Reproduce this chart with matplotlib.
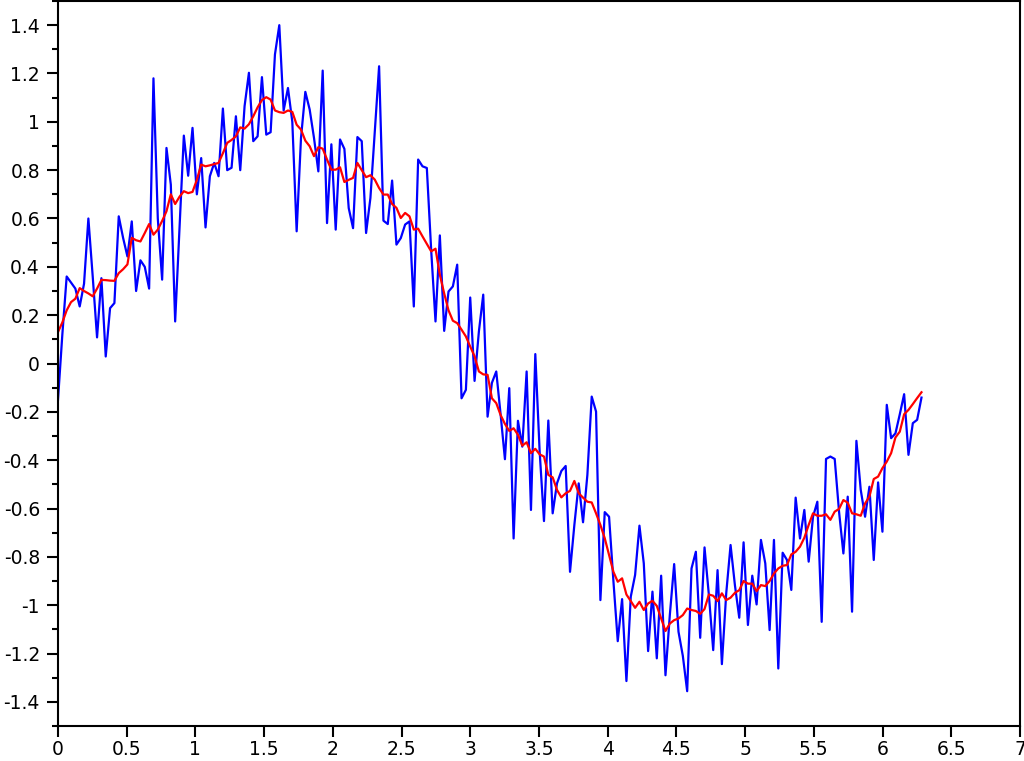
import numpy as np
import matplotlib
matplotlib.use("Agg")
import matplotlib.pyplot as plt
from matplotlib.ticker import MultipleLocator, FuncFormatter

plt.rcParams["font.family"] = ["DejaVu Sans"]
plt.rcParams["axes.unicode_minus"] = False

# Noisy signal (blue), 200 samples over [0, 2*pi]
noisy = [
    -0.15, 0.12, 0.36, 0.335, 0.31, 0.236, 0.33, 0.60, 0.36, 0.108,
    0.353, 0.029, 0.229, 0.25, 0.609, 0.52, 0.443, 0.588, 0.30, 0.427,
    0.40, 0.31, 1.18, 0.60, 0.347, 0.892, 0.74, 0.174, 0.56, 0.943,
    0.777, 0.975, 0.70, 0.85, 0.563, 0.775, 0.83, 0.775, 1.055, 0.80,
    0.81, 1.023, 0.80, 1.065, 1.203, 0.92, 0.94, 1.185, 0.947, 0.957,
    1.279, 1.40, 1.047, 1.14, 1.0, 0.547, 0.933, 1.124, 1.051, 0.933,
    0.795, 1.212, 0.581, 0.907, 0.554, 0.927, 0.888, 0.643, 0.56, 0.937,
    0.92, 0.54, 0.685, 0.961, 1.23, 0.591, 0.577, 0.757, 0.492, 0.519,
    0.575, 0.588, 0.236, 0.844, 0.816, 0.809, 0.47, 0.174, 0.53, 0.135,
    0.298, 0.319, 0.409, -0.144, -0.109, 0.273, -0.072, 0.133, 0.285, -0.22,
    -0.08, -0.033, -0.21, -0.396, -0.102, -0.724, -0.237, -0.344, -0.033, -0.606,
    0.039, -0.364, -0.652, -0.236, -0.62, -0.496, -0.445, -0.424, -0.862, -0.668,
    -0.496, -0.657, -0.461, -0.137, -0.199, -0.979, -0.615, -0.634, -0.9, -1.149,
    -0.975, -1.314, -0.965, -0.875, -0.671, -0.827, -1.19, -0.944, -1.22, -0.878,
    -1.29, -1.041, -0.83, -1.11, -1.21, -1.356, -0.848, -0.779, -1.135, -0.761,
    -0.958, -1.186, -0.855, -1.244, -0.951, -0.751, -0.917, -1.052, -0.74, -1.082,
    -0.878, -0.997, -0.73, -0.827, -1.103, -0.73, -1.262, -0.783, -0.813, -0.937,
    -0.555, -0.724, -0.606, -0.82, -0.634, -0.572, -1.069, -0.395, -0.385, -0.395,
    -0.613, -0.786, -0.551, -1.027, -0.32, -0.523, -0.634, -0.51, -0.813, -0.492,
    -0.696, -0.171, -0.309, -0.289, -0.21, -0.127, -0.378, -0.247, -0.233, -0.141,
]

# Smoothed signal (red)
smooth = [
    0.13, 0.17, 0.22, 0.254, 0.268, 0.312, 0.30, 0.29, 0.278, 0.31,
    0.346, 0.345, 0.343, 0.342, 0.374, 0.39, 0.41, 0.52, 0.51, 0.505,
    0.54, 0.577, 0.533, 0.554, 0.59, 0.63, 0.70, 0.66, 0.69, 0.713,
    0.705, 0.71, 0.76, 0.823, 0.816, 0.82, 0.825, 0.83, 0.87, 0.913,
    0.925, 0.94, 0.977, 0.972, 0.99, 1.023, 1.06, 1.09, 1.102, 1.092,
    1.047, 1.04, 1.037, 1.047, 1.041, 0.988, 0.968, 0.922, 0.899, 0.858,
    0.895, 0.889, 0.844, 0.802, 0.802, 0.812, 0.751, 0.76, 0.768, 0.83,
    0.80, 0.771, 0.779, 0.761, 0.726, 0.699, 0.699, 0.660, 0.644, 0.602,
    0.623, 0.609, 0.554, 0.558, 0.526, 0.495, 0.464, 0.475, 0.367, 0.29,
    0.22, 0.177, 0.167, 0.14, 0.112, 0.07, 0.03, -0.033, -0.045, -0.047,
    -0.144, -0.164, -0.213, -0.25, -0.279, -0.268, -0.295, -0.34, -0.326, -0.371,
    -0.353, -0.376, -0.385, -0.461, -0.471, -0.523, -0.554, -0.537, -0.527, -0.486,
    -0.537, -0.555, -0.572, -0.575, -0.62, -0.668, -0.723, -0.792, -0.862, -0.903,
    -0.889, -0.956, -0.983, -1.011, -0.986, -1.02, -0.993, -0.982, -1.003, -1.055,
    -1.107, -1.076, -1.062, -1.055, -1.041, -1.014, -1.02, -1.024, -1.036, -1.016,
    -0.956, -0.961, -0.983, -0.951, -0.979, -0.969, -0.949, -0.938, -0.9, -0.911,
    -0.911, -0.942, -0.917, -0.921, -0.9, -0.869, -0.848, -0.837, -0.834, -0.79,
    -0.779, -0.758, -0.721, -0.668, -0.62, -0.63, -0.63, -0.624, -0.647, -0.613,
    -0.602, -0.565, -0.576, -0.62, -0.624, -0.63, -0.579, -0.551, -0.478, -0.468,
    -0.433, -0.406, -0.371, -0.306, -0.282, -0.21, -0.192, -0.168, -0.143, -0.119,
]

x = np.linspace(0, 2 * np.pi, len(noisy))

fig = plt.figure(figsize=(10.24, 7.61), dpi=100)
ax = fig.add_axes([58 / 1024, 1 - 726 / 761, 962 / 1024, 725 / 761])

ax.plot(x, noisy, color="#0000ff", lw=1.6)
ax.plot(x, smooth, color="#ff0000", lw=1.6)

ax.set_xlim(0, 7)
ax.set_ylim(-1.5, 1.5)

ax.xaxis.set_major_locator(MultipleLocator(0.5))
ax.yaxis.set_major_locator(MultipleLocator(0.2))
ax.yaxis.set_minor_locator(MultipleLocator(0.1))
fmt = FuncFormatter(lambda v, p: f"{round(v, 2):g}")
ax.xaxis.set_major_formatter(fmt)
ax.yaxis.set_major_formatter(fmt)

for s in ax.spines.values():
    s.set_linewidth(1.5)
    s.set_color("black")

ax.tick_params(axis="both", which="major", direction="out", length=8, width=1.5,
               labelsize=13.5, pad=5, colors="black")
ax.tick_params(axis="x", which="major", pad=2)
ax.tick_params(axis="y", which="minor", direction="out", length=4, width=1.5)
ax.tick_params(top=False, right=False)

fig.savefig("out.png", dpi=100)
